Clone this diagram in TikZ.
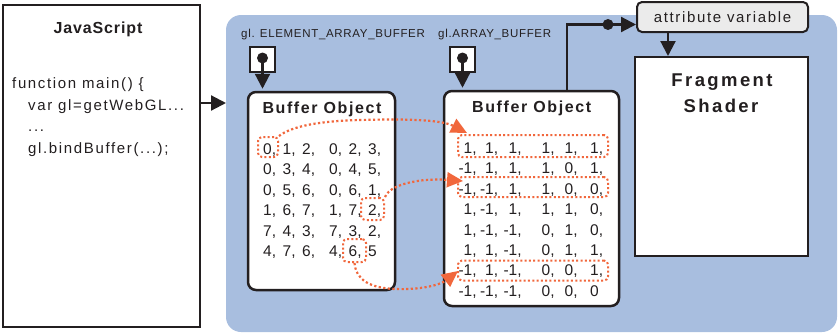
\documentclass[tikz,border=0pt]{standalone}
\usepackage{fontspec}
\setmainfont{Liberation Sans}
\newfontfamily\fcode[LetterSpace=11]{Liberation Sans}
\newfontfamily\fjs[LetterSpace=5.5]{Liberation Sans}
\newfontfamily\fbo[LetterSpace=10]{Liberation Sans}
\newfontfamily\ffrag[LetterSpace=13]{Liberation Sans}
\newfontfamily\fattr[LetterSpace=11]{Liberation Sans}
\newfontfamily\fgl[LetterSpace=6]{Liberation Sans}
\usetikzlibrary{arrows.meta}
\definecolor{bgblue}{RGB}{168,190,223}
\definecolor{ink}{RGB}{35,31,32}
\definecolor{hot}{RGB}{241,103,60}
\definecolor{attrgray}{RGB}{235,235,235}
\newcommand\tailcomma[2]{\ifnum#1=#2 \else\rlap{,}\fi}
\tikzset{
  panel/.style={fill=bgblue, rounded corners=15pt, inner sep=0pt, outer sep=0pt},
  plainbox/.style={draw=ink, fill=white, line width=2.2pt, inner sep=0pt},
  bobox/.style={draw=ink, fill=white, line width=2.5pt, rounded corners=8pt, inner sep=0pt},
  attrbox/.style={draw=ink, fill=attrgray, line width=2pt, rounded corners=5pt, inner sep=0pt,
    text=ink, font=\fattr\fontsize{15}{18}\selectfont},
  iconbox/.style={draw=ink, fill=white, line width=2pt, inner sep=0pt, minimum size=25pt},
  pin/.style={circle, fill=ink, inner sep=0pt, minimum size=11pt},
  blk/.style={draw=ink, line width=2.2pt, -{Triangle[length=15pt,width=15pt]}},
  hotline/.style={draw=hot, line width=2.2pt, dash pattern=on 2.2pt off 2.4pt,
    -{Triangle[length=16pt,width=15pt]}},
  hlbox/.style={draw=hot, line width=2pt, dash pattern=on 2pt off 2.3pt, rounded corners=4pt, inner sep=0pt},
  codetext/.style={text=ink, inner sep=0pt, anchor=base west, font=\fcode\fontsize{15}{18}\selectfont},
  jstitle/.style={text=ink, inner sep=0pt, anchor=base, font=\fjs\bfseries\fontsize{16}{19}\selectfont},
  botitle/.style={text=ink, inner sep=0pt, anchor=base, font=\fbo\bfseries\fontsize{16}{19}\selectfont},
  fragtitle/.style={text=ink, inner sep=0pt, anchor=base, font=\ffrag\bfseries\fontsize{18.5}{22}\selectfont},
  gllabel/.style={text=ink, inner sep=0pt, anchor=base west, font=\fgl\fontsize{11.5}{14}\selectfont},
  numcell/.style={text=ink, inner sep=0pt, font=\fontsize{15.5}{18}\selectfont},
}
\begin{document}
\begin{tikzpicture}[x=1pt,y=-1pt]
\useasboundingbox (0,0) rectangle (838,335);

% background panel
\node[panel, minimum width=611pt, minimum height=317pt] (panel) at (531.5,173.5) {};

% JavaScript box
\node[plainbox, minimum width=197pt, minimum height=322pt] (js) at (101.5,166) {};
\node[jstitle] (jst) at (98,33.5) {JavaScript};
\node[codetext] (c1) at (12,88) {function main() \{};
\node[codetext] (c2) at (28,110) {var gl=getWebGL...};
\node[codetext] (c3) at (28,131.5) {...};
\node[codetext] (c4) at (28,153) {gl.bindBuffer(...);};
\coordinate (jsy) at (214,103);
\draw[blk] (js.east |- jsy) -- (panel.west |- jsy);

% labels
\node[gllabel] (lab1) at (241,37.5) {gl. ELEMENT\_ARRAY\_BUFFER};
\node[gllabel] (lab2) at (438,37.5) {gl.ARRAY\_BUFFER};

% buffer objects
\node[bobox, minimum width=147pt, minimum height=198pt] (bo1) at (321.5,191) {};
\node[bobox, minimum width=175pt, minimum height=215pt] (bo2) at (531.5,198.5) {};
\node[botitle] (bo1t) at (322,113) {Buffer Object};
\node[botitle] (bo2t) at (531.7,112.5) {Buffer Object};

% icons
\node[iconbox] (sq1) at (262.5,59.5) {};
\node[pin] (dot1) at (262.5,58) {};
\draw[blk, shorten >=2pt] (dot1.center) -- (bo1.north -| dot1.center);
\node[iconbox] (sq2) at (462.5,59.5) {};
\node[pin] (dot2) at (462.5,58) {};
\draw[blk, shorten >=2pt] (dot2.center) -- (bo2.north -| dot2.center);

% index data
\foreach \row [count=\ri] in {{0,1,2,0,2,3},{0,3,4,0,4,5},{0,5,6,0,6,1},{1,6,7,1,7,2},{7,4,3,7,3,2},{4,7,6,4,6,5}}{
  \foreach \v [count=\ci] in \row {
    \pgfmathsetmacro\xx{{263,282.5,302,329,348.5,368}[\ci-1]}
    \node[numcell, anchor=base west] (a-\ri-\ci) at (\xx,{154+20.5*(\ri-1)}) {\v\tailcomma{\ri\ci}{66}};
  }
}
% vertex data
\foreach \row [count=\ri] in {{1,1,1,1,1,1},{-1,1,1,1,0,1},{-1,-1,1,1,0,0},{1,-1,1,1,1,0},{1,-1,-1,0,1,0},{1,1,-1,0,1,1},{-1,1,-1,0,0,1},{-1,-1,-1,0,0,0}}{
  \foreach \v [count=\ci] in \row {
    \pgfmathsetmacro\xx{{472.5,494,517.5,550.5,573.5,599}[\ci-1]}
    \node[numcell, anchor=base east] (b-\ri-\ci) at (\xx,{153.5+20.4*(\ri-1)}) {\v\tailcomma{\ri\ci}{86}};
  }
}

% highlights
\node[hlbox, minimum width=20pt, minimum height=20pt] (h1) at (268,147) {};
\node[hlbox, minimum width=23pt, minimum height=22pt] (h2) at (372.5,209) {};
\node[hlbox, minimum width=23pt, minimum height=23pt] (h3) at (354.5,250.5) {};
\node[hlbox, minimum width=150pt, minimum height=22pt] (k1) at (533,146) {};
\node[hlbox, minimum width=150pt, minimum height=20pt] (k3) at (533,187) {};
\node[hlbox, minimum width=150pt, minimum height=20pt] (k7) at (533,270.5) {};

% dotted links
\coordinate (e1) at (467,133);
\coordinate (e2) at (463,181);
\coordinate (e3) at (458,271);
\draw[hotline] (h1.north east) .. controls (292,126) and (320,121) .. (360,120)
   .. controls (400,119) and (440,119) .. (e1);
\draw[hotline] (h2.north east) .. controls (388,190) and (398,183) .. (425,180)
   .. controls (440,179) and (450,180) .. (e2);
\draw[hotline] (h3.south) .. controls (356,280) and (370,288) .. (395,289)
   .. controls (420,290) and (440,285) .. (e3);

% attribute variable and fragment shader
\node[attrbox, minimum width=171pt, minimum height=30pt] (attr) at (722.5,17) {attribute variable};
\node[plainbox, line width=2pt, minimum width=173pt, minimum height=199pt] (frag) at (721.5,156.5) {};
\node[fragtitle] (fragt1) at (722,86) {Fragment};
\node[fragtitle] (fragt2) at (721,112.7) {Shader};

\coordinate (up) at (567,24.5);
\draw[blk] (bo2.north -| up) |- (attr.west |- up);
\node[pin] (jdot) at (608,24.5) {};
\draw[blk] (attr.south -| 668,0) -- (frag.north -| 668,0);
\end{tikzpicture}
\end{document}
